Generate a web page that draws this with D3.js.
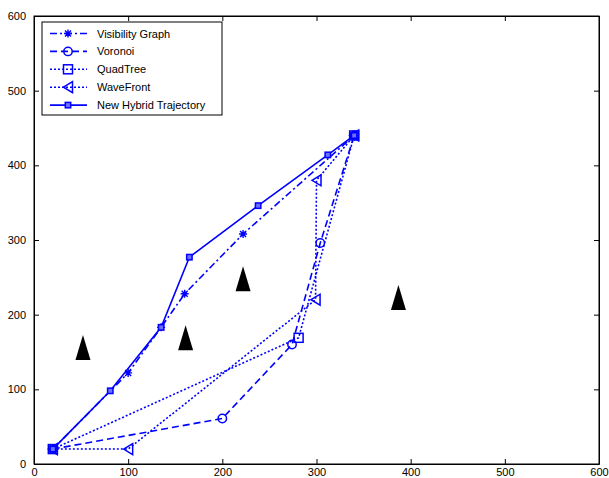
<!DOCTYPE html>
<html>
<head>
<meta charset="utf-8">
<script src="https://cdn.jsdelivr.net/npm/d3@7"></script>
<style>
  body { margin: 0; background: #fff; }
  text { font-family: "Liberation Sans", Arial, sans-serif; }
</style>
</head>
<body>
<div id="chart"></div>
<script>
// series data (x, y)
let visX = [20, 100, 135, 160, 222, 340],
    visY = [20, 122, 183, 228, 308, 440];
let vorX = [20, 200, 274, 304, 340],
    vorY = [20, 61, 160, 296, 440];
let quadX = [20, 281, 340],
    quadY = [20, 169, 440];
let waveX = [20, 100, 299, 300, 340],
    waveY = [20, 20, 220, 380, 440];
let hybX = [20, 81, 135, 165, 238, 312, 340],
    hybY = [20, 98, 183, 277, 346, 414, 440];

// obstacles (black triangles)
let obsX = [52, 161, 222, 387],
    obsY = [156, 169, 248, 223];

let xTicks = [0, 100, 200, 300, 400, 500, 600],
    yTicks = [0, 100, 200, 300, 400, 500, 600];

let legendNames = ["Visibility Graph", "Voronoi", "QuadTree", "WaveFront", "New Hybrid Trajectory"];

// dimensions
let margin = {top: 16, right: 10, bottom: 14, left: 34},
    width = 609 - margin.left - margin.right,
    height = 478 - margin.top - margin.bottom;

let svg = d3.select("#chart")
  .append("svg")
    .attr("width", 609)
    .attr("height", 478)
  .append("g")
    .attr("transform", "translate(" + margin.left + "," + margin.top + ")");

let x = d3.scaleLinear().domain([0, 600]).range([0, width]);
let y = d3.scaleLinear().domain([0, 600]).range([height, 0]);

// axes, ticks inside like matlab
svg.append("g")
  .attr("transform", "translate(0," + height + ")")
  .call(d3.axisBottom(x).tickValues(xTicks).tickSizeInner(-5).tickSizeOuter(0).tickPadding(4));
svg.append("g")
  .call(d3.axisLeft(y).tickValues(yTicks).tickSizeInner(-5).tickSizeOuter(0).tickPadding(8));
svg.append("g")
  .call(d3.axisTop(x).tickValues(xTicks).tickSizeInner(-5).tickSizeOuter(0).tickFormat(""));
svg.append("g")
  .attr("transform", "translate(" + width + ",0)")
  .call(d3.axisRight(y).tickValues(yTicks).tickSizeInner(-5).tickSizeOuter(0).tickFormat(""));

svg.selectAll(".domain").attr("stroke", "#000");
svg.selectAll(".tick line").attr("stroke", "#000");
svg.selectAll(".tick text")
  .attr("font-size", 11)
  .attr("fill", "#000")
  .style("font-family", "Liberation Sans, Arial, sans-serif");

svg.append("rect")
  .attr("width", width).attr("height", height)
  .attr("fill", "none").attr("stroke", "#000").attr("stroke-width", 1);

// obstacles
svg.selectAll(".obs")
  .data(d3.zip(obsX, obsY))
  .enter().append("path")
    .attr("d", function(d) {
      let cx = x(d[0]), cy = y(d[1]);
      return "M" + cx + "," + (cy - 12.5) + "L" + (cx + 7.5) + "," + (cy + 12.5) + "L" + (cx - 7.5) + "," + (cy + 12.5) + "Z";
    })
    .attr("fill", "#000");

let blue = "#0000ff";

// marker drawing
function marker(g, type, cx, cy) {
  if (type == "star") {
    g.append("path")
      .attr("d", "M" + (cx - 4) + "," + cy + "L" + (cx + 4) + "," + cy +
                 "M" + cx + "," + (cy - 4) + "L" + cx + "," + (cy + 4) +
                 "M" + (cx - 3) + "," + (cy - 3) + "L" + (cx + 3) + "," + (cy + 3) +
                 "M" + (cx - 3) + "," + (cy + 3) + "L" + (cx + 3) + "," + (cy - 3))
      .attr("stroke", blue).attr("stroke-width", 1.4).attr("fill", "none");
  } else if (type == "circle") {
    g.append("circle").attr("cx", cx).attr("cy", cy).attr("r", 4.2)
      .attr("stroke", blue).attr("stroke-width", 1.5).attr("fill", "none");
  } else if (type == "square") {
    g.append("rect").attr("x", cx - 4.5).attr("y", cy - 4.5).attr("width", 9).attr("height", 9)
      .attr("stroke", blue).attr("stroke-width", 1.5).attr("fill", "none");
  } else if (type == "tri") {
    g.append("path")
      .attr("d", "M" + (cx - 4.5) + "," + cy + "L" + (cx + 4.5) + "," + (cy - 5.5) + "L" + (cx + 4.5) + "," + (cy + 5.5) + "Z")
      .attr("stroke", blue).attr("stroke-width", 1.5).attr("fill", "none");
  } else if (type == "small") {
    g.append("rect").attr("x", cx - 2.7).attr("y", cy - 2.7).attr("width", 5.4).attr("height", 5.4)
      .attr("stroke", blue).attr("stroke-width", 1.5).attr("fill", "#6f6fff");
  }
}

let series = [
  {xs: visX, ys: visY, dash: "7,3,2,3", mk: "star"},
  {xs: vorX, ys: vorY, dash: "7,4", mk: "circle"},
  {xs: quadX, ys: quadY, dash: "2,2", mk: "square"},
  {xs: waveX, ys: waveY, dash: "2,2", mk: "tri"},
  {xs: hybX, ys: hybY, dash: null, mk: "small"}
];

let line = d3.line().x(function(d) { return x(d[0]); }).y(function(d) { return y(d[1]); });

series.forEach(function(s) {
  let pts = d3.zip(s.xs, s.ys);
  let g = svg.append("g");
  g.append("path")
    .datum(pts)
    .attr("d", line)
    .attr("fill", "none")
    .attr("stroke", blue)
    .attr("stroke-width", 1.6)
    .attr("stroke-dasharray", s.dash);
  pts.forEach(function(p) { marker(g, s.mk, x(p[0]), y(p[1])); });
});

// legend
let lg = svg.append("g").attr("transform", "translate(8,6)");
lg.append("rect")
  .attr("width", 180).attr("height", 93)
  .attr("fill", "#fff").attr("stroke", "#000").attr("stroke-width", 1);

series.forEach(function(s, i) {
  let ly = 11.5 + i * 17.9;
  lg.append("line")
    .attr("x1", 8).attr("x2", 45).attr("y1", ly).attr("y2", ly)
    .attr("stroke", blue).attr("stroke-width", 1.6)
    .attr("stroke-dasharray", s.dash);
  marker(lg, s.mk, 26, ly);
  lg.append("text")
    .attr("x", 55).attr("y", ly + 4)
    .attr("font-size", 11)
    .text(legendNames[i]);
});
</script>
</body>
</html>
